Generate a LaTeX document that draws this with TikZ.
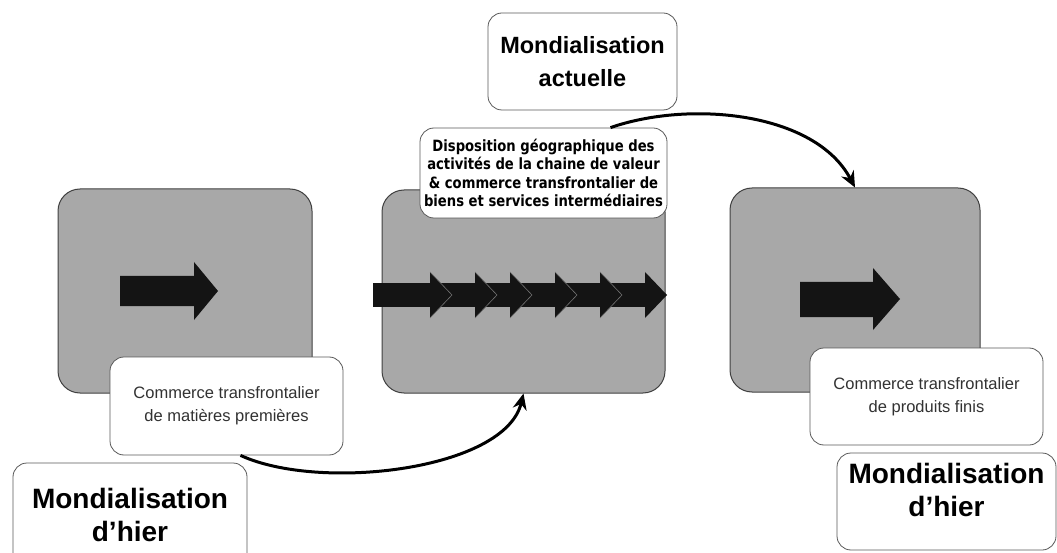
\documentclass[tikz,border=0pt]{standalone}
\usepackage{fontspec}
\setmainfont{Liberation Sans}
\newfontfamily\dispfont[FakeStretch=0.85]{DejaVu Sans}
\usetikzlibrary{arrows.meta}
\definecolor{boxgrey}{RGB}{168,168,168}
\definecolor{txtgrey}{RGB}{50,50,50}
\tikzset{
  greybox/.style={draw=black!75, line width=1pt, fill=boxgrey, rounded corners=22pt, inner sep=0pt},
  whitebox/.style={draw=black!65, line width=0.8pt, fill=white, rounded corners=14pt, align=center, inner sep=0pt},
  headtext/.style={font=\fontsize{28}{33}\selectfont\bfseries},
  smalltext/.style={font=\fontsize{16.5}{23}\selectfont, text=txtgrey},
  disptext/.style={font=\dispfont\bfseries\fontsize{15.5}{18.5}\selectfont},
  blockarrow/.style={fill=black!92},
  chevedge/.style={draw=black!55, line width=0.6pt},
  curvearrow/.style={line width=3pt, -{Stealth[length=16pt,width=14pt]}}
}
\begin{document}
\begin{tikzpicture}[x=1pt,y=-1pt]
\useasboundingbox (0,0) rectangle (1057,553);
% grey boxes
\node[greybox, minimum width=254pt, minimum height=204pt] (g1) at (185,291) {};
\node[greybox, minimum width=283pt, minimum height=203pt] (g2) at (523.5,291.5) {};
\node[greybox, minimum width=250pt, minimum height=204pt] (g3) at (855,290) {};
% block arrows
\fill[blockarrow] (120,276) -- (194,276) -- (194,262) -- (218,291) -- (194,320) -- (194,306) -- (120,306) -- cycle;
\fill[blockarrow] (800,282) -- (873,282) -- (873,268) -- (900,299) -- (873,330) -- (873,317) -- (800,317) -- cycle;
% chain of arrows
\fill[blockarrow] (373,283) rectangle (647,307);
\foreach \t in {452,497,532,577,622,667}{
  \fill[blockarrow] (\t-22,272) -- (\t,295) -- (\t-22,318) -- cycle;
}
\foreach \t in {452,497,532,577,622}{
  \draw[chevedge] (\t-22,272) -- (\t,295) -- (\t-22,318);
}
% white boxes
\node[whitebox, smalltext, minimum width=233pt, minimum height=98pt] (c1) at (226.5,406) {Commerce transfrontalier\\de matières premières};
\node[whitebox, smalltext, minimum width=233pt, minimum height=97pt] (c3) at (926.5,396.5) {Commerce transfrontalier\\de produits finis};
\node[whitebox, headtext, minimum width=234pt, minimum height=104pt] (h1) at (130,515) {Mondialisation\\d’hier};
\node[whitebox, headtext, text depth=24pt, minimum width=219pt, minimum height=97pt] (h3) at (946.5,501.5) {Mondialisation\\d’hier};
\node[whitebox, font=\fontsize{23.5}{33}\selectfont\bfseries, minimum width=189pt, minimum height=97pt] (h2) at (582.5,61.5) {Mondialisation\\actuelle};
\node[whitebox, disptext, minimum width=247pt, minimum height=90pt] (d) at (543.5,173) {Disposition géographique des\\activités de la chaine de valeur\\\& commerce transfrontalier de\\biens et services intermédiaires};
% curved connectors
\draw[curvearrow] ([xshift=14pt]c1.south) .. controls (320,492) and (505,470) .. (g2.south);
\draw[curvearrow] ([xshift=67pt]d.north) .. controls (690,100) and (815,112) .. (g3.north);
\end{tikzpicture}
\end{document}
